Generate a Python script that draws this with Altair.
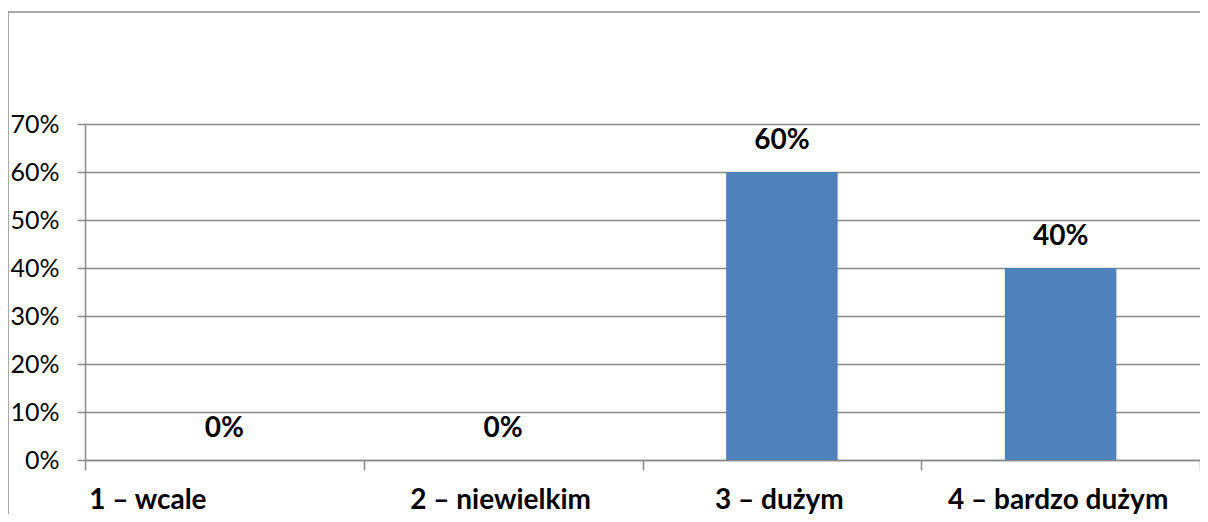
import altair as alt
import pandas as pd

categories = ["1 – wcale", "2 – niewielkim", "3 – dużym", "4 – bardzo dużym"]
values = [0.0, 0.0, 0.6, 0.4]
y_ticks = [0, 0.1, 0.2, 0.3, 0.4, 0.5, 0.6, 0.7]

df = pd.DataFrame({"cat": categories, "val": values})

FONT = "Lato"
GRID = "#8a8a8a"

x_enc = alt.X(
    "cat:N",
    sort=categories,
    title=None,
    scale=alt.Scale(paddingInner=0, paddingOuter=0),
    axis=alt.Axis(
        tickBand="extent",
        labelAngle=0,
        labelFont=FONT,
        labelFontSize=28,
        labelFontWeight="bold",
        labelColor="black",
        labelBaseline="alphabetic",
        labelPadding=38,
        labelLimit=0,
        labelOffset={"condition": {"test": "datum.value == '1 – wcale'", "value": -77}, "value": -3},
        tickSize=10,
        tickColor=GRID,
        tickWidth=1.5,
        domainColor=GRID,
        domainWidth=1.5,
        grid=False,
    ),
)

y_enc = alt.Y(
    "val:Q",
    title=None,
    scale=alt.Scale(domain=[0, 0.7], nice=False),
    axis=alt.Axis(
        values=y_ticks,
        format=".0%",
        labelFont=FONT,
        labelFontSize=25,
        labelColor="black",
        labelPadding=18,
        tickSize=8,
        tickColor=GRID,
        tickWidth=1.5,
        domainColor=GRID,
        domainWidth=1.5,
        grid=True,
        gridColor=GRID,
        gridWidth=1.5,
    ),
)

frame = alt.Chart(pd.DataFrame({"a": [0]})).mark_rect(
    fill=None, stroke="#8c8c8c", strokeWidth=1.5, clip=False
).encode(
    x=alt.value(-77), x2=alt.value(1140), y=alt.value(-112), y2=alt.value(420)
)

bars = alt.Chart(df).mark_bar(color="#4F81BD", width=alt.RelativeBandSize(0.4)).encode(
    x=x_enc, y=y_enc
)

labels = alt.Chart(df).mark_text(
    font=FONT, fontSize=28, fontWeight="bold", color="black",
    baseline="alphabetic", dy=-23
).encode(
    x=alt.X("cat:N", sort=categories),
    y="val:Q",
    text=alt.Text("val:Q", format=".0%"),
)

chart = alt.layer(frame, bars, labels).properties(
    width=1115,
    height=336,
    autosize=alt.AutoSizeParams(type="none"),
    padding={"left": 77, "top": 116, "right": 0, "bottom": 54},
).configure_view(stroke=None).configure(background="white")

chart.save("out.html", embed_options={"renderer": "svg", "actions": False})
